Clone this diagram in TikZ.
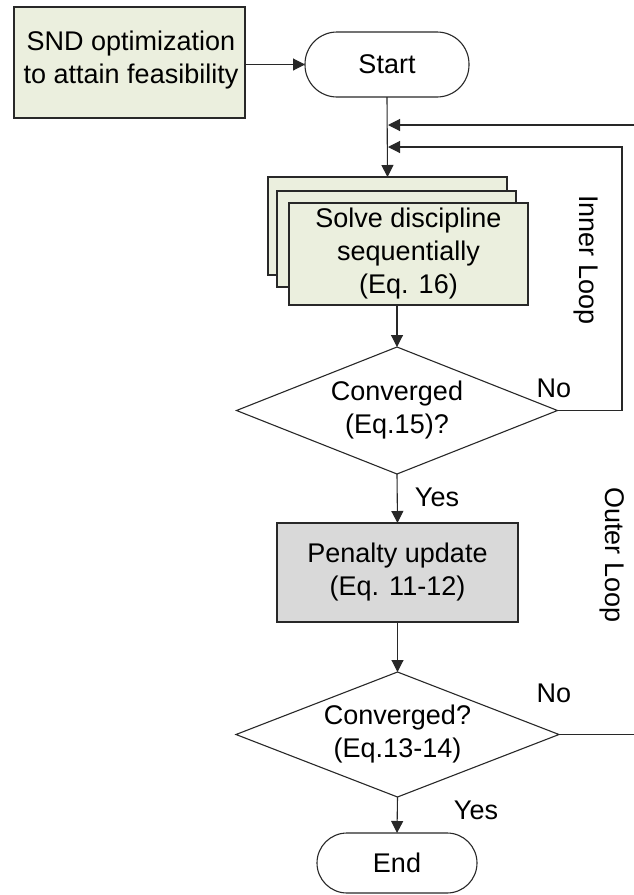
\documentclass[tikz,border=0pt]{standalone}
\usepackage{fontspec}
\setmainfont{Liberation Sans}
\usetikzlibrary{arrows.meta,shapes.geometric}
\definecolor{boxgreen}{RGB}{235,239,222}
\definecolor{boxgray}{RGB}{217,217,217}
\definecolor{linec}{RGB}{40,40,40}
\tikzset{
  txt/.style={font=\fontsize{27}{33}\selectfont, align=center, inner sep=0pt},
  greenbox/.style={draw=linec, line width=1.1pt, fill=boxgreen, inner sep=0pt, outer sep=0pt},
  graybox/.style={draw=linec, line width=1.1pt, fill=boxgray, inner sep=0pt, outer sep=0pt, txt},
  terminal/.style={draw=linec, line width=1.1pt, fill=white, inner sep=0pt, outer sep=0pt, txt},
  decision/.style={draw=linec, line width=1.1pt, fill=white, diamond, aspect=2.53, inner sep=0pt, outer sep=0pt, txt},
  arr/.style={draw=linec, line width=1.1pt, -{Triangle[length=12pt,width=12pt]}},
}
\begin{document}
\begin{tikzpicture}[x=1pt,y=-1pt]
\useasboundingbox (0,0) rectangle (634,895);
\clip (0,0) rectangle (634,895);
\fill[white] (0,0) rectangle (634,895);

% SND box
\node[greenbox, minimum width=231pt, minimum height=111pt] (snd) at (129.5,62.5) {};
\node[txt] (sndt) at (131,60) {SND optimization\\to attain feasibility};

% Start
\node[terminal, minimum width=164pt, minimum height=65pt, rounded corners=32pt] (start) at (387,64.5) {Start};

% stacked boxes
\node[greenbox, minimum width=239pt, minimum height=98pt] (sb1) at (387.5,226) {};
\node[greenbox, minimum width=239pt, minimum height=96pt] (sb2) at (396.5,239) {};
\node[greenbox, txt, minimum width=239pt, minimum height=102pt] (solve) at (408.5,254) {Solve discipline\\sequentially\\(Eq. 16)};

% decision 1
\node[decision, minimum width=321pt, minimum height=127pt] (d1) at (397,410.5) {Converged\\(Eq.15)?};

% penalty
\node[graybox, minimum width=241pt, minimum height=99pt] (pen) at (397.5,572.5) {Penalty update\\(Eq. 11-12)};

% decision 2
\node[decision, minimum width=323pt, minimum height=125pt] (d2) at (397.5,734.5) {Converged?\\(Eq.13-14)};

% End
\node[terminal, minimum width=160pt, minimum height=60pt, rounded corners=30pt] (end) at (397,863) {End};

% labels
\node[txt] (no1) at (554,388) {No};
\node[txt] (yes1) at (437,497) {Yes};
\node[txt] (no2) at (554,693) {No};
\node[txt] (yes2) at (476,810) {Yes};
\node[txt, rotate=-90] (inner) at (586,260) {Inner Loop};
\node[txt, rotate=-90] (outer) at (612,555) {Outer Loop};

% coordinates for loops
\coordinate (in2) at (388,125);
\coordinate (in1) at (388,147);
\coordinate (rin) at (622,147);
\coordinate (rout) at (700,125);

% connectors
\draw[arr] (snd.east |- start.west) -- (start.west);
\draw[arr] (start.south) -- (sb1.north);
\draw[arr] (solve.south -| d1.north) -- (d1.north);
\draw[arr] (d1.south) -- (pen.north);
\draw[arr] (pen.south) -- (d2.north);
\draw[arr] (d2.south) -- (end.north);
\draw[arr] (d1.east) -| (rin) -- (in1);
\draw[arr] (d2.east) -| (rout) -- (in2);
\end{tikzpicture}
\end{document}
